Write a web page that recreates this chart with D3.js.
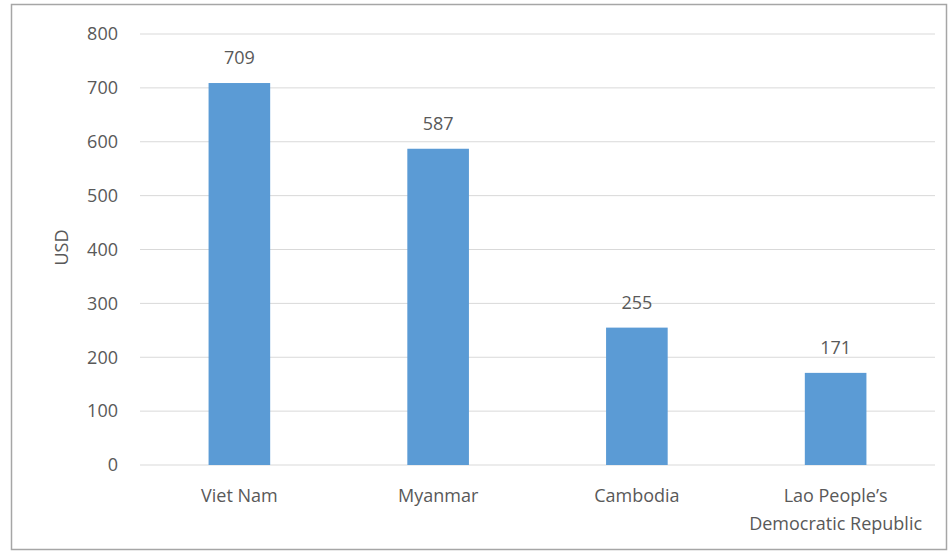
<!DOCTYPE html>
<html>
<head>
<meta charset="utf-8">
<script src="https://cdn.jsdelivr.net/npm/d3@7"></script>
<style>
  body { margin: 0; background: #fff; }
  text { font-family: "Open Sans", "Noto Sans", sans-serif; fill: #595959; }
</style>
</head>
<body>
<script>
// data
var countries = ["Viet Nam", "Myanmar", "Cambodia", "Lao People\u2019s|Democratic Republic"];
var values = [709, 587, 255, 171];
var yTicks = [0, 100, 200, 300, 400, 500, 600, 700, 800];

var margin = {top: 34, right: 14, bottom: 87, left: 140},
    width = 949 - margin.left - margin.right,
    height = 552 - margin.top - margin.bottom;

var fs = "18px";

var svg = d3.select("body")
    .append("svg")
    .attr("width", 949)
    .attr("height", 552);

// outer frame
svg.append("rect")
    .attr("x", 11.5).attr("y", 4.5)
    .attr("width", 935).attr("height", 545)
    .attr("fill", "none")
    .attr("stroke", "#a6a6a6")
    .attr("stroke-width", 1.5);

var g = svg.append("g")
    .attr("transform", "translate(" + margin.left + "," + margin.top + ")");

var x = d3.scaleBand()
    .domain(countries)
    .range([0, width])
    .paddingInner(0.69)
    .paddingOuter(0.345);

var y = d3.scaleLinear()
    .domain([0, 800])
    .range([height, 0]);

// gridlines
g.append("g")
  .selectAll("line")
  .data(yTicks)
  .enter().append("line")
    .attr("x1", 0).attr("x2", width)
    .attr("y1", function(d) { return y(d); })
    .attr("y2", function(d) { return y(d); })
    .attr("stroke", "#d9d9d9")
    .attr("stroke-width", 1);

// y axis labels
var yAxis = g.append("g")
    .call(d3.axisLeft(y).tickValues(yTicks).tickSize(0).tickPadding(22));
yAxis.select(".domain").remove();
yAxis.selectAll("text")
    .style("font-size", fs)
    .style("font-family", "Open Sans")
    .attr("fill", "#595959");

// y title
g.append("text")
    .attr("transform", "translate(" + (62 - margin.left) + "," + (height / 2 - 2) + ") rotate(-90)")
    .attr("text-anchor", "middle")
    .attr("dy", "0.35em")
    .style("font-size", fs)
    .text("USD");

// bars
g.append("g")
  .selectAll("rect")
  .data(values)
  .enter().append("rect")
    .attr("x", function(d, i) { return x(countries[i]); })
    .attr("y", function(d) { return y(d); })
    .attr("width", x.bandwidth())
    .attr("height", function(d) { return height - y(d); })
    .attr("fill", "#5b9bd5");

// value labels
g.append("g")
  .selectAll("text")
  .data(values)
  .enter().append("text")
    .attr("x", function(d, i) { return x(countries[i]) + x.bandwidth() / 2; })
    .attr("y", function(d) { return y(d) - 19; })
    .attr("text-anchor", "middle")
    .style("font-size", fs)
    .attr("fill", "#404040")
    .text(function(d) { return d; });

// category labels
var cat = g.append("g")
  .selectAll("text")
  .data(countries)
  .enter().append("text")
    .attr("x", function(d) { return x(d) + x.bandwidth() / 2; })
    .attr("y", height + 37)
    .attr("text-anchor", "middle")
    .style("font-size", fs);
cat.selectAll("tspan")
  .data(function(d) { return d.split("|"); })
  .enter().append("tspan")
    .attr("x", function() { return d3.select(this.parentNode).attr("x"); })
    .attr("dy", function(d, i) { return i ? 28 : 0; })
    .text(function(d) { return d; });
</script>
</body>
</html>
